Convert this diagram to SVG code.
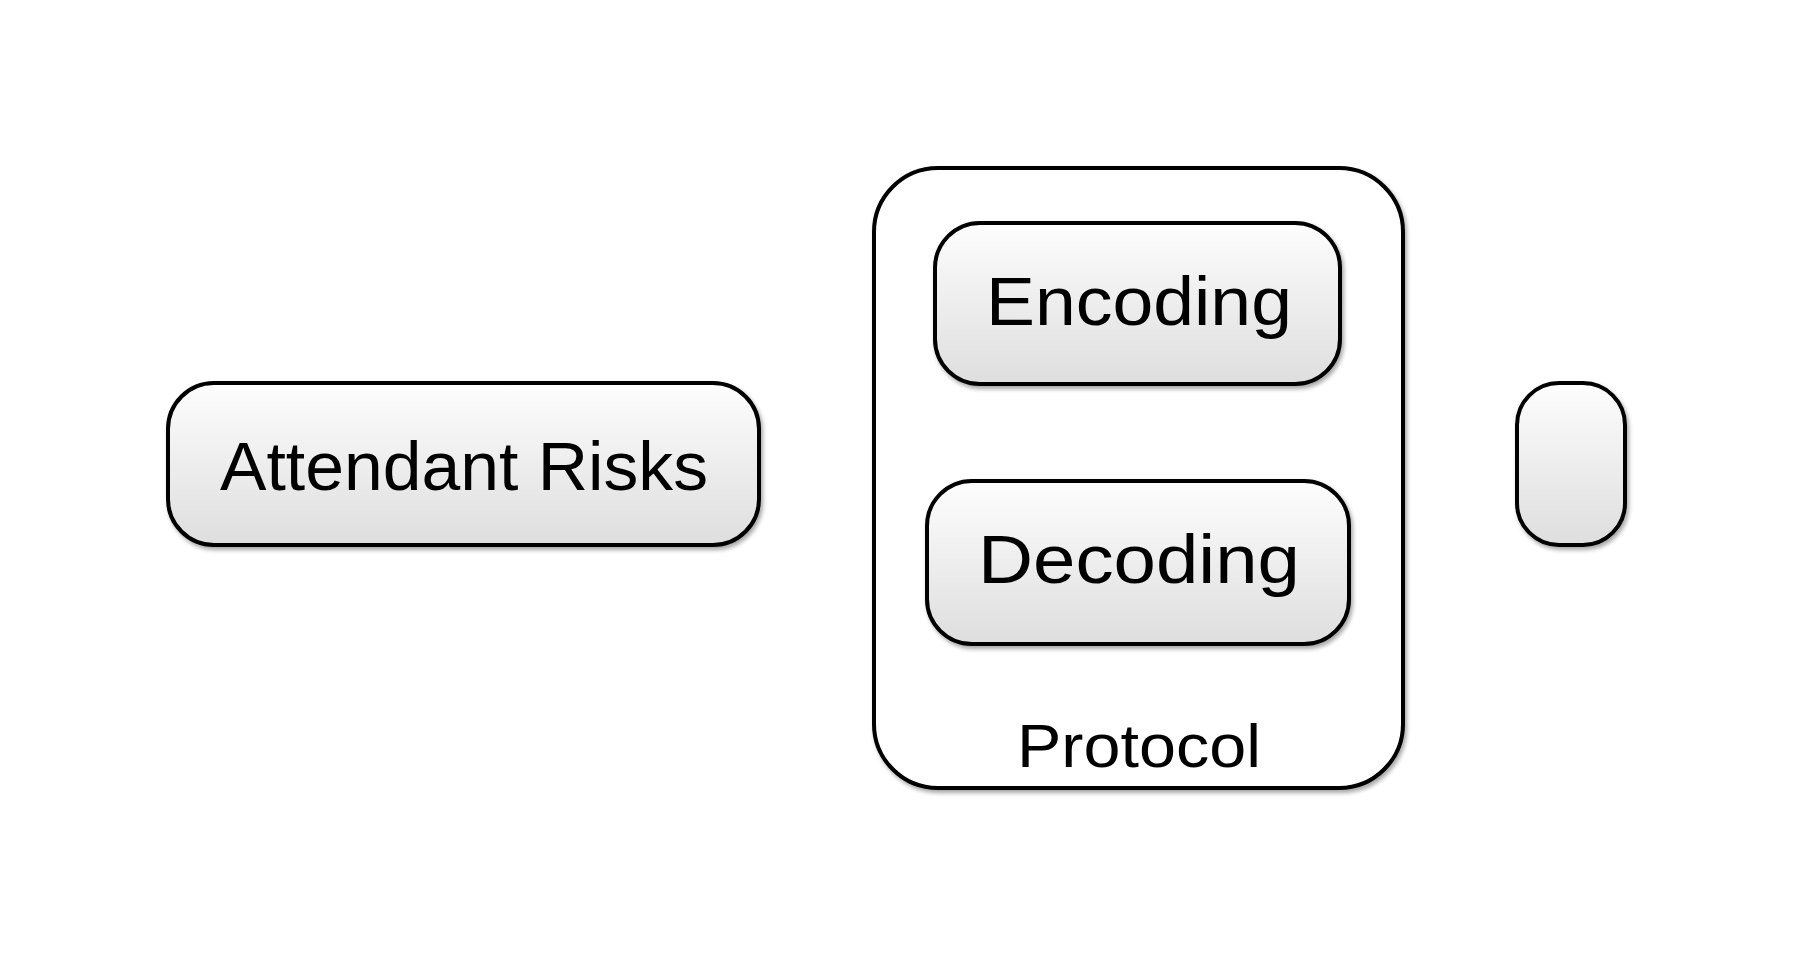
<svg xmlns="http://www.w3.org/2000/svg" width="1793" height="956" viewBox="0 0 1793 956">
<defs>
<linearGradient id="g" x1="0" y1="0" x2="0" y2="1">
<stop offset="0" stop-color="#fdfdfd"/>
<stop offset="1" stop-color="#dedede"/>
</linearGradient>
<filter id="sh" x="-10%" y="-10%" width="130%" height="130%">
<feGaussianBlur in="SourceAlpha" stdDeviation="2"/>
<feOffset dx="2" dy="3" result="b"/>
<feComponentTransfer><feFuncA type="linear" slope="0.35"/></feComponentTransfer>
<feMerge><feMergeNode/><feMergeNode in="SourceGraphic"/></feMerge>
</filter>
</defs>
<style>
.box{fill:url(#g);stroke:#000;stroke-width:4;filter:url(#sh)}
.cont{fill:#fff;stroke:#000;stroke-width:4;filter:url(#sh)}
.t{font-family:"Liberation Sans",Arial,sans-serif;fill:#000;text-anchor:middle}
</style>
<rect width="1793" height="956" fill="#fff"/>
<g id="protocol">
<rect class="cont" x="874" y="168" width="529" height="620" rx="64" ry="64"/>
<text class="t" x="1139" y="767" font-size="62" textLength="244" lengthAdjust="spacingAndGlyphs">Protocol</text>
</g>
<g id="attendant-risks">
<rect class="box" x="168" y="383" width="591" height="162" rx="46" ry="46"/>
<text class="t" x="464" y="490" font-size="69" textLength="488" lengthAdjust="spacingAndGlyphs">Attendant Risks</text>
</g>
<g id="encoding">
<rect class="box" x="935" y="223" width="405" height="161" rx="45" ry="45"/>
<text class="t" x="1139" y="325" font-size="69" textLength="306" lengthAdjust="spacingAndGlyphs">Encoding</text>
</g>
<g id="decoding">
<rect class="box" x="927" y="481" width="422" height="163" rx="45" ry="45"/>
<text class="t" x="1139" y="583" font-size="69" textLength="322" lengthAdjust="spacingAndGlyphs">Decoding</text>
</g>
<g id="empty-node">
<rect class="box" x="1517" y="383" width="108" height="162" rx="42" ry="42"/>
</g>
<g id="connectors"></g>
</svg>
